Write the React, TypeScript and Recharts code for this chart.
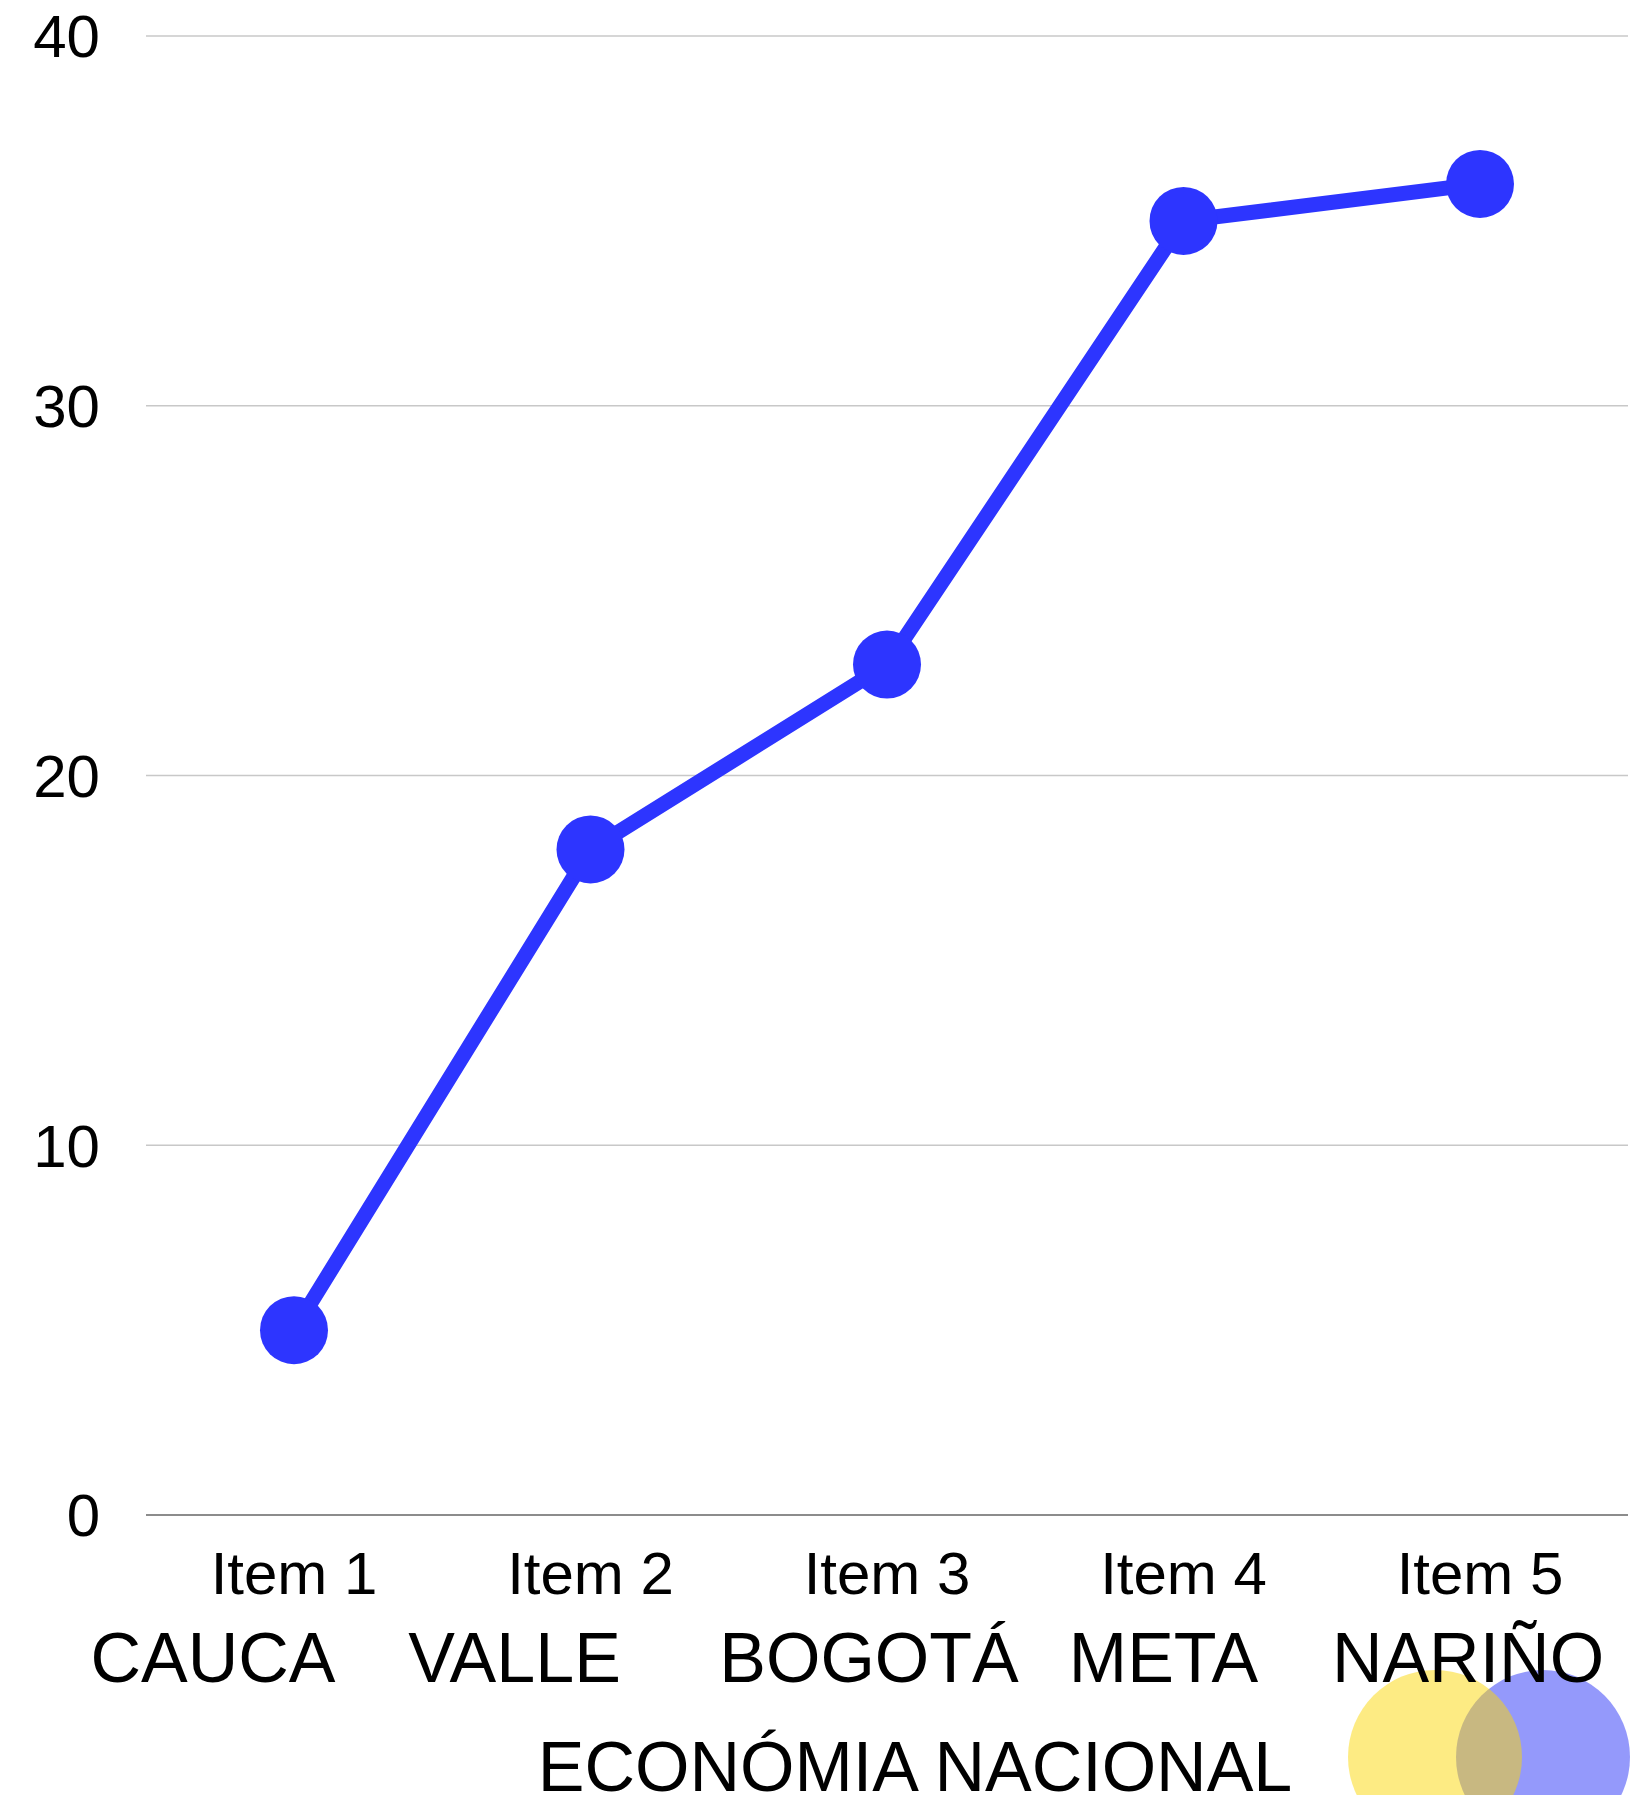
import React from 'react';
import { LineChart, Line, XAxis, YAxis, CartesianGrid } from 'recharts';

const items = ['Item 1', 'Item 2', 'Item 3', 'Item 4', 'Item 5'];
const values = [5, 18, 23, 35, 36];
const regions = ['CAUCA', 'VALLE', 'BOGOTÁ', 'META', 'NARIÑO'];
const yTicks = [0, 10, 20, 30, 40];
const footerTitle = 'ECONÓMIA NACIONAL';

// horizontal shift of each region name from its tick centre
const regionShift = [-81, -76, -18, -20, -12];

const data = items.map((name, i) => ({ name, value: values[i] }));

const FONT = '"Liberation Sans", Arial, sans-serif';
const BLUE = '#2d35ff';

function XTick(props: any) {
  const { x, y, payload, index } = props;
  return (
    <g>
      <text x={x} y={y} dy={79} textAnchor="middle" fontSize={60} fontFamily={FONT} fill="#000">
        {payload.value}
      </text>
      <text
        x={x + regionShift[index]}
        y={y}
        dy={167}
        textAnchor="middle"
        fontSize={70}
        fontFamily={FONT}
        fill="#000"
      >
        {regions[index]}
      </text>
    </g>
  );
}

export default function App() {
  return (
    <div style={{ position: 'absolute', left: 0, top: 0, width: 1652, height: 1795, background: '#fff', overflow: 'hidden' }}>
      <svg width={1652} height={1795} style={{ position: 'absolute', left: 0, top: 0 }}>
        <circle cx={1543} cy={1757} r={87} fill="#2a33f7" fillOpacity={0.5} />
        <circle cx={1435} cy={1757} r={87} fill="#fbd808" fillOpacity={0.5} />
        <text x={915} y={1791} textAnchor="middle" fontSize={70} fontFamily={FONT} fill="#000">
          {footerTitle}
        </text>
      </svg>
      <div style={{ position: 'absolute', left: 0, top: 0 }}>
        <LineChart width={1652} height={1795} data={data} margin={{ top: 36, right: 24, left: 0, bottom: 0 }}>
          <CartesianGrid vertical={false} stroke="#c8c8c8" strokeWidth={1.5} />
          <XAxis
            dataKey="name"
            height={280}
            padding={{ left: 148, right: 148 }}
            tickLine={false}
            tickSize={0}
            tickMargin={0}
            axisLine={{ stroke: '#8c8c8c', strokeWidth: 2 }}
            tick={<XTick />}
            interval={0}
          />
          <YAxis
            width={146}
            domain={[0, 40]}
            ticks={yTicks}
            axisLine={false}
            tickLine={false}
            tickSize={0}
            tickMargin={46}
            tick={{ fontSize: 60, fontFamily: FONT, fill: '#000' }}
          />
          <Line
            type="linear"
            dataKey="value"
            stroke={BLUE}
            strokeWidth={15}
            dot={{ r: 34, fill: BLUE, stroke: 'none' }}
            activeDot={false}
            isAnimationActive={false}
          />
        </LineChart>
      </div>
    </div>
  );
}
